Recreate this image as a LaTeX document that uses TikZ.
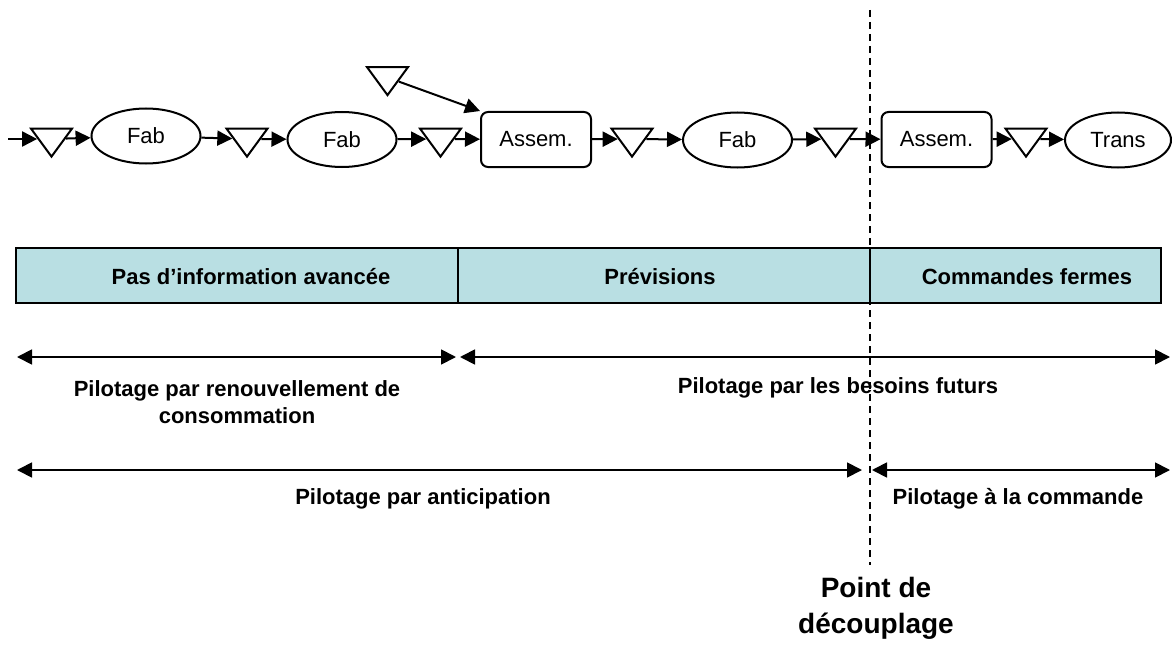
\documentclass[tikz,border=0pt]{standalone}
\usepackage{fontspec}
\setmainfont{Liberation Sans}
\usepackage{xcolor}
\usepackage{tikz}
\usetikzlibrary{shapes.geometric,arrows.meta}
\definecolor{bandblue}{RGB}{185,223,227}

\begin{document}
\begin{tikzpicture}[x=0.5pt,y=-0.5pt]
	\tikzstyle{fab} = [draw, line width=1pt, ellipse, minimum width=54.5pt, minimum height=27.5pt, inner sep=0pt, font=\fontsize{11}{13}\selectfont]
	\tikzstyle{assem} = [draw, line width=1pt, rounded corners=3.5pt, minimum width=55pt, minimum height=27.5pt, inner sep=0pt, font=\fontsize{11}{13}\selectfont]
	\tikzstyle{stock} = [draw, line width=1pt, isosceles triangle, isosceles triangle stretches, shape border rotate=270, minimum width=20.5pt, minimum height=14pt, inner sep=0pt]
	\tikzstyle{band} = [draw, line width=1pt, fill=bandblue, minimum height=27.5pt, inner sep=0pt]
	\tikzstyle{txt} = [font=\fontsize{11}{13.5}\selectfont\bfseries, align=center]
	\tikzstyle{cut} = [dash pattern=on 3.5pt off 2.5pt, line width=0.7pt]
	\tikzset{edge/.style = {line width=1pt, -{Triangle[length=7.5pt,width=7.5pt]}}}
	\tikzset{spanarrow/.style = {line width=0.9pt, {Triangle[length=7.5pt,width=7.5pt]}-{Triangle[length=7.5pt,width=7.5pt]}}}
	
	\useasboundingbox (0,0) rectangle (1172,658);
	
	% decoupling line
	\coordinate (dtop) at (870,10);
	\coordinate (dbot) at (870,565);
	\draw[cut] (dtop) -- (dbot);
	
	% flow
	\coordinate (in) at (8,139);
	\node[stock](stock1) at (51.5,139) {};
	\node[fab](fab1) at (146,136) {Fab};
	\node[stock](stock2) at (247,139) {};
	\node[fab](fab2) at (342,139.5) {Fab};
	\node[stock](stock3) at (440.5,139) {};
	\node[stock](stock0) at (387.5,77.5) {};
	\node[assem](assem1) at (536,139.5) {Assem.};
	\node[stock](stock4) at (632,139) {};
	\node[fab](fab3) at (737.5,140) {Fab};
	\node[stock](stock5) at (835.5,139) {};
	\node[assem](assem2) at (936.5,139.5) {Assem.};
	\node[stock](stock6) at (1026,139) {};
	\node[fab, minimum width=53pt](trans) at (1118,140) {Trans};
	\draw[edge](in) to (stock1);
	\draw[edge](stock1) to (fab1);
	\draw[edge](fab1) to (stock2);
	\draw[edge](stock2) to (fab2);
	\draw[edge](fab2) to (stock3);
	\draw[edge](stock3) to (assem1);
	\draw[edge](stock0) to (assem1.north west);
	\draw[edge](assem1) to (stock4);
	\draw[edge](stock4) to (fab3);
	\draw[edge](fab3) to (stock5);
	\draw[edge](stock5) to (assem2);
	\draw[edge](assem2) to (stock6);
	\draw[edge](stock6) to (trans);
	
	% information band
	\node[band, minimum width=221pt](band1) at (237,275.5) {};
	\node[band, minimum width=206pt](band2) at (664,275.5) {};
	\node[band, minimum width=145.5pt](band3) at (1015.5,275.5) {};
	\node[txt](pas) at (251,277) {Pas d’information avancée};
	\node[txt](prev) at (660,277) {Prévisions};
	\node[txt](fermes) at (1027,277) {Commandes fermes};
	
	% piloting horizons
	\coordinate (r1a) at (17,357);
	\coordinate (r1b) at (456,357);
	\coordinate (r1c) at (460,357);
	\coordinate (r1d) at (1170,357);
	\draw[spanarrow](r1a) to (r1b);
	\draw[spanarrow](r1c) to (r1d);
	\node[txt](renouv) at (237,402) {Pilotage par renouvellement de\\consommation};
	\node[txt](futurs) at (838,388) {Pilotage par les besoins futurs};
	
	\coordinate (r2a) at (17,470);
	\coordinate (r2b) at (862,470);
	\coordinate (r2c) at (872,470);
	\coordinate (r2d) at (1170,470);
	\draw[spanarrow](r2a) to (r2b);
	\draw[spanarrow](r2c) to (r2d);
	\node[txt](antic) at (423,499) {Pilotage par anticipation};
	\node[txt](cmde) at (1018,499) {Pilotage à la commande};
	
	\node[txt, font=\fontsize{14}{18}\selectfont\bfseries](decoup) at (876,608) {Point de\\découplage};
	
\end{tikzpicture}
\end{document}
